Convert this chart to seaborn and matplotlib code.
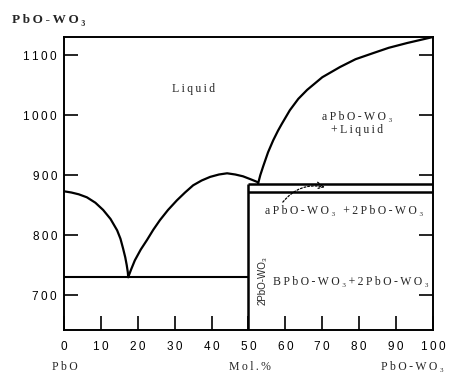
import matplotlib
matplotlib.use("Agg")
import matplotlib.pyplot as plt
import seaborn as sns
import pandas as pd

# PbO-WO3 phase diagram: composition in mol.% WO3 (x), temperature in degC (y)
left_liquidus_x = [0, 2, 4, 6.2, 8.5, 10.6, 12.6, 14.4, 15.3, 16.0, 16.6, 17.0, 17.3, 17.4]
left_liquidus_y = [873, 871, 868, 863, 854, 842, 827, 808, 794, 778, 763, 750, 738, 730]

dome_x = [17.4, 18.2, 19.2, 20.8, 22.5, 24.2, 26.0, 28.2, 30.6, 32.8, 35.0, 37.3,
          39.6, 42.0, 44.2, 46.4, 48.5, 50.6, 52.6]
dome_y = [730, 743, 758, 776, 792, 809, 825, 842, 858, 871, 883, 891,
          897, 901, 903, 901, 898, 893, 888]

right_liquidus_x = [52.6, 53.2, 54.0, 55.3, 56.7, 58.0, 59.0, 61.2, 63.5, 65.9, 70.0,
                    74.8, 79.0, 83.7, 88.0, 93.0, 96.5, 100]
right_liquidus_y = [886, 900, 915, 938, 958, 974, 985, 1008, 1027, 1042, 1063,
                    1080, 1093, 1103, 1112, 1120, 1125, 1130]

eutectic_t = 730
peritectic_t = 885
transition_t = 872
compound_x = 50

x_ticks = [0, 10, 20, 30, 40, 50, 60, 70, 80, 90, 100]
y_ticks = [700, 800, 900, 1000, 1100]

SERIF = ["Liberation Serif", "DejaVu Serif"]
SANS = ["Liberation Sans", "DejaVu Sans"]
TS = "\u2009"


def spaced(s):
    return TS.join(s)


sns.set_theme(style="white")
plt.rcParams["font.family"] = SANS
plt.rcParams["axes.edgecolor"] = "black"
plt.rcParams["axes.linewidth"] = 1.4

fig = plt.figure(figsize=(4.52, 3.74), dpi=100)
ax = fig.add_axes([64 / 452, 1 - 330 / 374, (433 - 64) / 452, (330 - 37) / 374])

curves = [
    (left_liquidus_x, left_liquidus_y),
    (dome_x, dome_y),
    (right_liquidus_x, right_liquidus_y),
]
for cx, cy in curves:
    df = pd.DataFrame({"x": cx, "y": cy})
    sns.lineplot(data=df, x="x", y="y", ax=ax, sort=False, estimator=None,
                 color="black", linewidth=1.6)

# invariant lines and the 2PbO-WO3 compound boundary
ax.hlines(eutectic_t, 0, compound_x, color="black", linewidth=1.5)
ax.vlines(compound_x, 600, peritectic_t, color="black", linewidth=1.8)
ax.hlines(peritectic_t, compound_x, 100, color="black", linewidth=1.8)
ax.hlines(transition_t, compound_x, 100, color="black", linewidth=1.8)

ax.set_xlim(0, 100)
ax.set_ylim(642, 1130)
ax.set_xticks(x_ticks)
ax.set_xticklabels([spaced(str(v)) for v in x_ticks])
ax.set_yticks(y_ticks)
ax.set_yticklabels([spaced(str(v)) for v in y_ticks])
ax.tick_params(direction="in", length=10, width=1.2, colors="black",
               labelsize=8.5, left=True, right=True, bottom=True, top=False)
ax.tick_params(axis="x", pad=8)
ax.tick_params(axis="y", pad=5)
for lbl in ax.get_xticklabels() + ax.get_yticklabels():
    lbl.set_family(SANS)
ax.set_xlabel("")
ax.set_ylabel("")
for sp in ax.spines.values():
    sp.set_visible(True)
    sp.set_color("black")
    sp.set_linewidth(1.4)

# phase field labels
fs = 8.5
ax.text(35, 1043, spaced("Liquid"), family=SERIF, fontsize=fs, ha="center", va="center")
ax.text(79.4, 997, spaced("aPbO-WO\u2083"), family=SERIF, fontsize=fs, ha="center", va="center")
ax.text(79.4, 975, spaced("+Liquid"), family=SERIF, fontsize=fs, ha="center", va="center")
ax.text(75.9, 840, spaced("aPbO-WO\u2083 +2PbO-WO\u2083"), family=SERIF, fontsize=fs,
        ha="center", va="center")
ax.text(77.8, 722, spaced("BPbO-WO\u2083+2PbO-WO\u2083"), family=SERIF, fontsize=fs,
        ha="center", va="center")
ax.text(53.9, 725, "2PbO-WO\u2083", family=SANS, fontsize=7, rotation=90,
        ha="center", va="center")

# dotted pointer towards the narrow high-temperature field
ax.annotate("", xy=(70.7, 880), xytext=(59.3, 855),
            arrowprops=dict(arrowstyle="->", linestyle=(0, (1.5, 1.5)), color="black",
                            linewidth=0.9, connectionstyle="arc3,rad=-0.3",
                            shrinkA=0, shrinkB=0))

# title and axis captions
fig.text(12 / 452, 1 - 20 / 374, spaced("PbO-WO\u2083"), family=SERIF, fontsize=9.5,
         fontweight="bold", ha="left", va="center")
fig.text(65 / 452, 1 - 367 / 374, spaced("PbO"), family=SERIF, fontsize=8.5,
         ha="center", va="center")
fig.text(250 / 452, 1 - 367 / 374, spaced("Mol.%"), family=SERIF, fontsize=8.5,
         ha="center", va="center")
fig.text(412 / 452, 1 - 367 / 374, spaced("PbO-WO\u2083"), family=SERIF, fontsize=8.5,
         ha="center", va="center")

fig.savefig("out.png", dpi=100, facecolor="white")
